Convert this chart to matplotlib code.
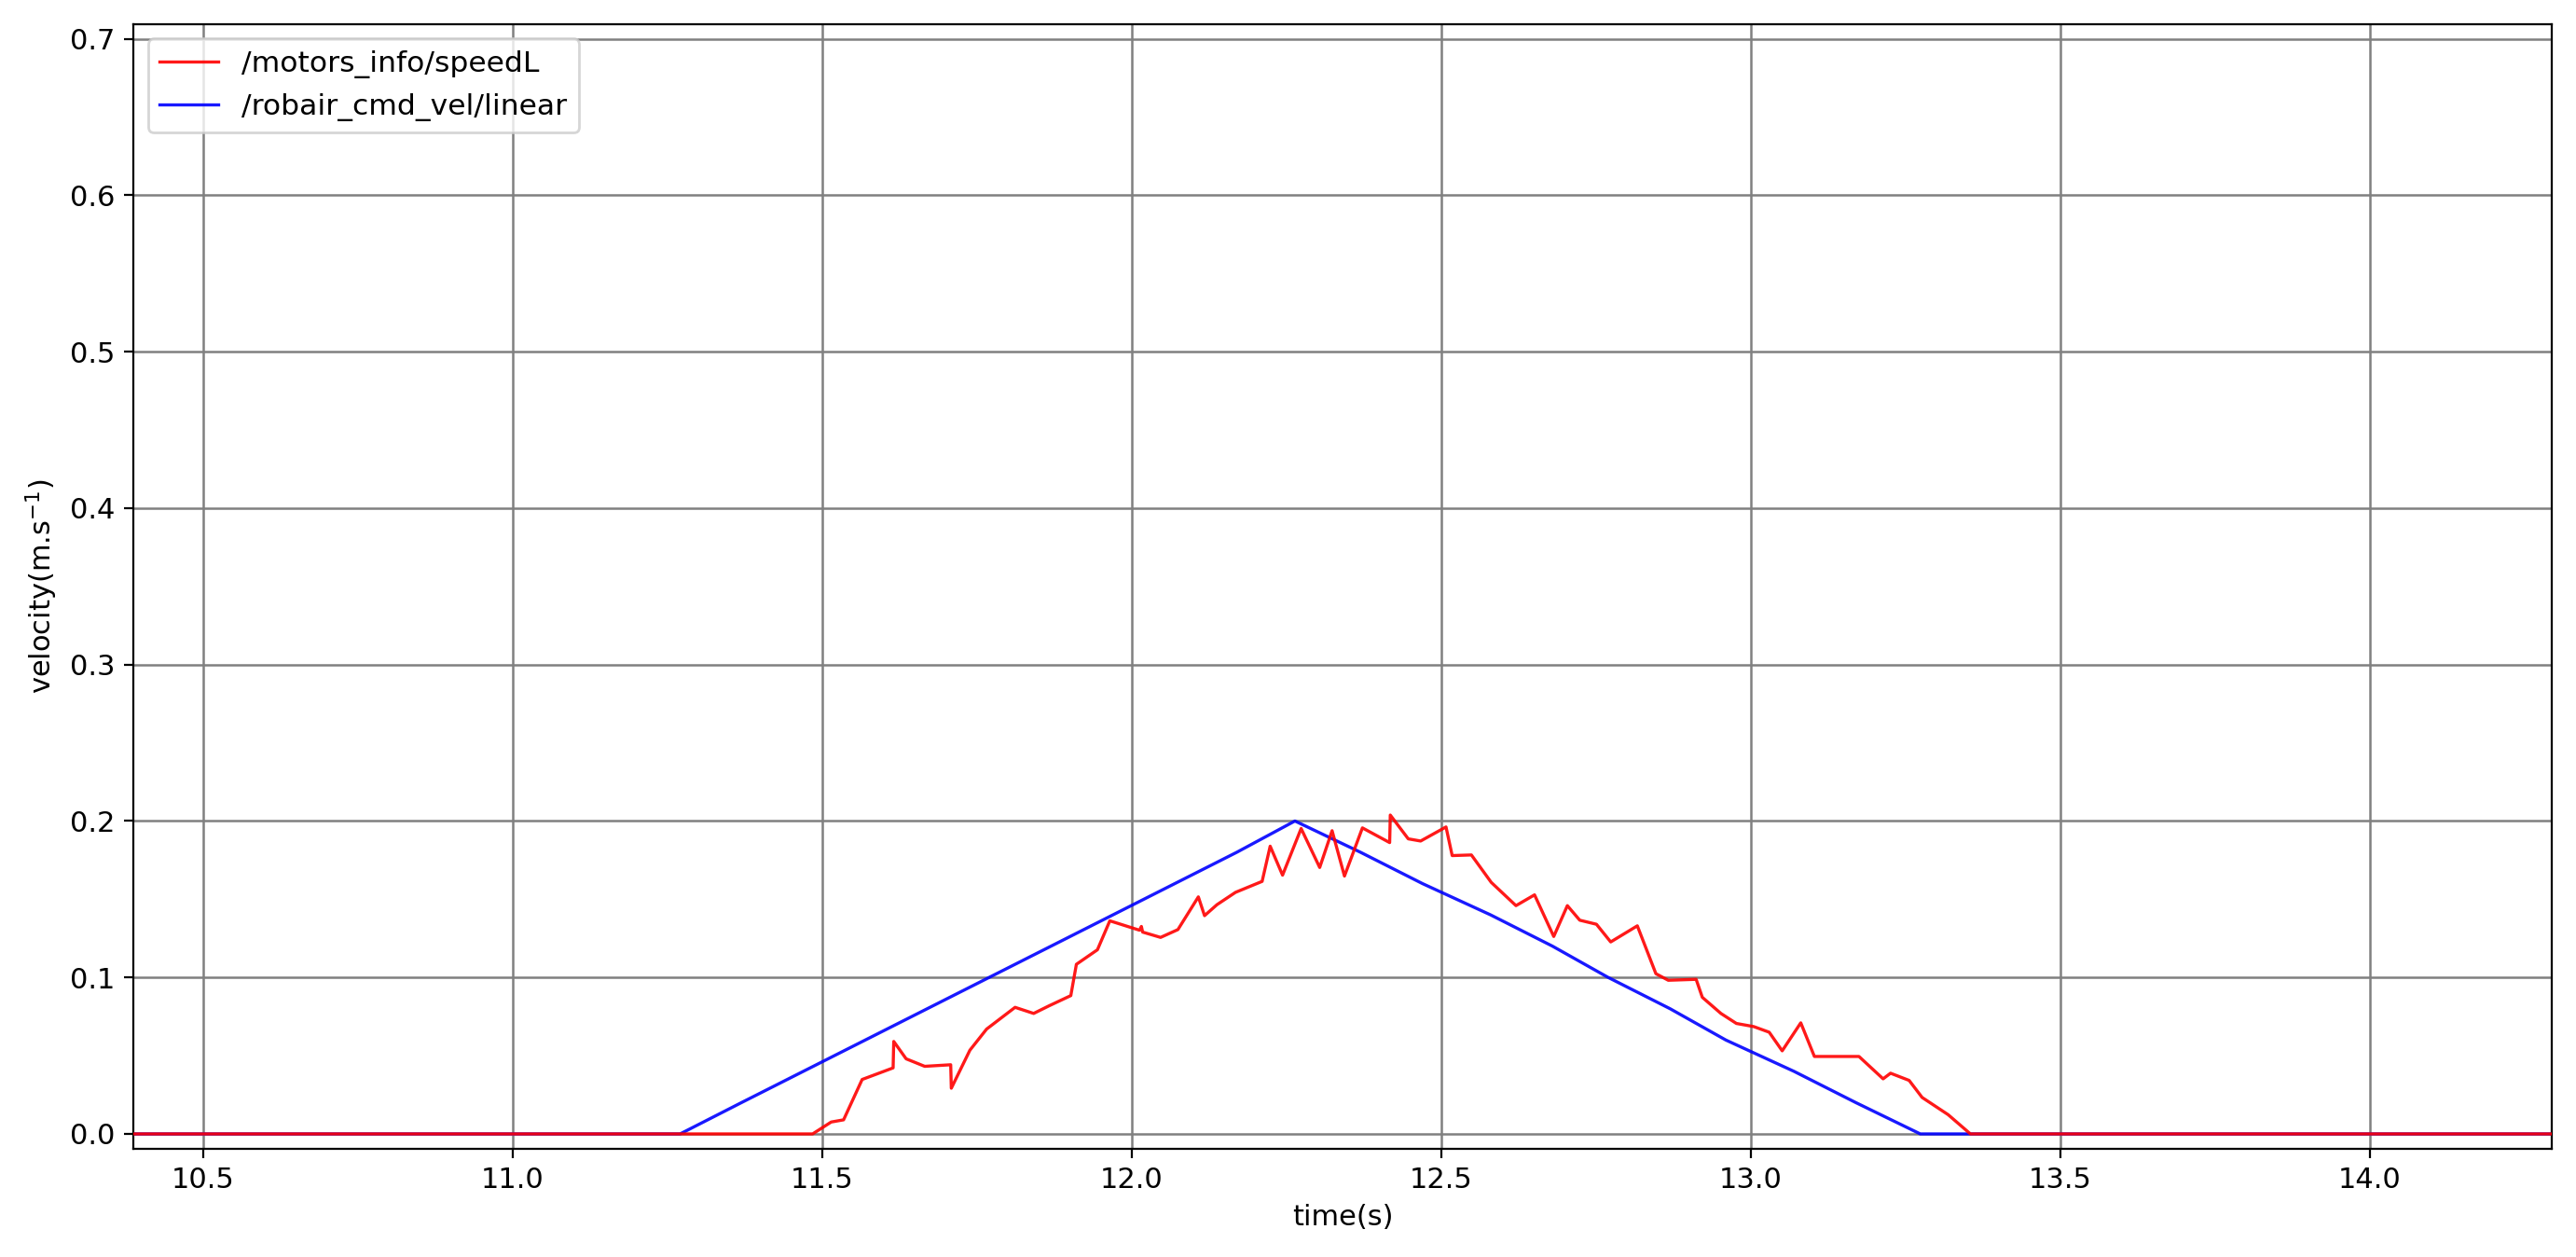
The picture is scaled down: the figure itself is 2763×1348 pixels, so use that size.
import matplotlib
matplotlib.use("Agg")
import matplotlib.pyplot as plt

# motor speed (left wheel) read from the topic, seconds / m.s-1
speed_t = [10.30, 11.485, 11.515, 11.535, 11.565, 11.615, 11.616, 11.636, 11.666,
           11.708, 11.709, 11.739, 11.766, 11.812, 11.842, 11.867, 11.902, 11.911,
           11.945, 11.965, 12.013, 12.016, 12.018, 12.047, 12.075, 12.108, 12.118,
           12.138, 12.168, 12.211, 12.224, 12.244, 12.274, 12.304, 12.324, 12.344,
           12.373, 12.417, 12.418, 12.447, 12.467, 12.508, 12.518, 12.549, 12.581,
           12.621, 12.651, 12.682, 12.704, 12.724, 12.751, 12.774, 12.817, 12.847,
           12.867, 12.912, 12.922, 12.952, 12.977, 13.005, 13.030, 13.051, 13.081,
           13.103, 13.175, 13.214, 13.226, 13.256, 13.277, 13.319, 13.355, 14.40]
speed_v = [0.0, 0.0, 0.0076, 0.009, 0.0348, 0.0422, 0.0591, 0.048, 0.0432,
           0.0442, 0.0292, 0.0535, 0.067, 0.0809, 0.077, 0.0819, 0.0884, 0.1084,
           0.1177, 0.1362, 0.1302, 0.1326, 0.129, 0.1256, 0.1306, 0.1515, 0.1395,
           0.1465, 0.1544, 0.1614, 0.1839, 0.1654, 0.1952, 0.1703, 0.1938, 0.1648,
           0.1956, 0.1862, 0.2038, 0.1886, 0.1872, 0.1962, 0.1779, 0.1783, 0.1608,
           0.1459, 0.1528, 0.1262, 0.1459, 0.1366, 0.134, 0.1227, 0.133, 0.1024,
           0.0982, 0.0988, 0.0873, 0.077, 0.0706, 0.0686, 0.065, 0.0531, 0.071,
           0.0495, 0.0495, 0.0352, 0.0388, 0.0342, 0.0233, 0.0123, 0.0, 0.0]

# commanded linear velocity
cmd_t = [10.30, 11.271, 11.37, 11.47, 11.57, 11.67, 11.77, 11.87, 11.97, 12.07,
         12.17, 12.264, 12.37, 12.47, 12.58, 12.68, 12.77, 12.87, 12.96, 13.07,
         13.17, 13.274, 14.40]
cmd_v = [0.0, 0.0, 0.02, 0.04, 0.06, 0.08, 0.10, 0.12, 0.14, 0.16,
         0.18, 0.20, 0.18, 0.16, 0.14, 0.12, 0.10, 0.08, 0.06, 0.04,
         0.02, 0.0, 0.0]

x_ticks = [10.5, 11.0, 11.5, 12.0, 12.5, 13.0, 13.5, 14.0]
y_ticks = [0.0, 0.1, 0.2, 0.3, 0.4, 0.5, 0.6, 0.7]

plt.rcParams["font.size"] = 11

fig = plt.figure(figsize=(13.815, 6.74), dpi=200)
ax = fig.add_axes([0.0518, 0.0861, 0.9388, 0.8949])

# red on top of blue where both sit at zero, as in the original
ax.plot(speed_t, speed_v, color="red", lw=1.2, alpha=0.9, zorder=3, label="/motors_info/speedL")
ax.plot(cmd_t, cmd_v, color="blue", lw=1.2, alpha=0.9, zorder=2, label="/robair_cmd_vel/linear")

ax.set_xlim(10.388, 14.294)
ax.set_ylim(-0.0095, 0.7095)
ax.set_xticks(x_ticks)
ax.set_yticks(y_ticks)
ax.grid(True, color="gray", lw=0.9)
ax.set_axisbelow(True)

ax.set_xlabel("time(s)")
ax.set_ylabel("velocity(m.s$^{-1}$)")
ax.legend(loc="upper left", fontsize=11.3)

fig.savefig("out.png", dpi=200)
